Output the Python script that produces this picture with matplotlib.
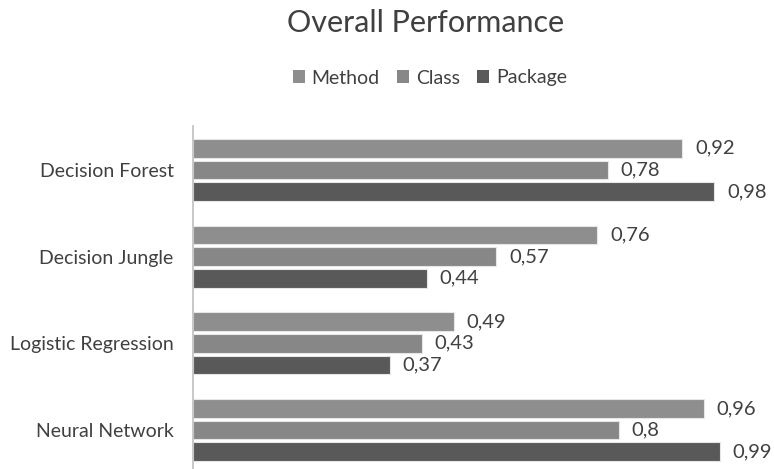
import matplotlib
matplotlib.use("Agg")
import matplotlib.pyplot as plt
from matplotlib.patches import Patch
import numpy as np

categories = ["Decision Forest", "Decision Jungle", "Logistic Regression", "Neural Network"]
series_names = ["Method", "Class", "Package"]
method = [0.92, 0.76, 0.49, 0.96]
klass = [0.78, 0.57, 0.43, 0.80]
package = [0.98, 0.44, 0.37, 0.99]

colors = ["#8e8e8e", "#878787", "#595959"]
text_color = "#404040"

plt.rcParams["font.family"] = ["Lato", "DejaVu Sans"]

fig = plt.figure(figsize=(7.74, 4.69), dpi=100)
W, H = 774, 469
left, right = 193, 774
top, bottom = 126, 469
ax = fig.add_axes([left / W, 1 - bottom / H, (right - left) / W, (bottom - top) / H])

y = np.arange(len(categories))
offsets = [-0.25, 0.0, 0.25]
bar_h = 0.215

def fmt(v):
    s = f"{v:.2f}".rstrip("0").rstrip(".")
    return s.replace(".", ",")

for vals, off, c in zip([method, klass, package], offsets, colors):
    bars = ax.barh(y + off, vals, height=bar_h, color=c, edgecolor="#e6e6e6", linewidth=0.8)
    for b, v in zip(bars, vals):
        ax.text(v + 0.024, b.get_y() + b.get_height() / 2, fmt(v),
                va="center", ha="left", fontsize=14.5, color=text_color)

ax.set_xlim(0, (right - left) / 532)
ax.set_ylim(3.449, -0.507)
ax.set_yticks(y)
ax.set_yticklabels(categories, fontsize=14, color=text_color)
ax.tick_params(axis="y", length=0, pad=14)
ax.set_xticks([])
for s in ["top", "right", "bottom"]:
    ax.spines[s].set_visible(False)
ax.spines["left"].set_color("#bfbfbf")
ax.spines["left"].set_linewidth(1.2)

fig.text(426 / W, 1 - 23 / H, "Overall Performance", ha="center", va="center",
         fontsize=22, color=text_color)

handles = [Patch(facecolor=c, edgecolor="none") for c in colors]
fig.legend(handles, series_names, loc="center", bbox_to_anchor=(430 / W, 1 - 78 / H),
           ncol=3, frameon=False, fontsize=14, labelcolor=text_color,
           handlelength=0.6, handleheight=0.6, handletextpad=0.35, columnspacing=0.9)

fig.savefig("out.png", dpi=100)
